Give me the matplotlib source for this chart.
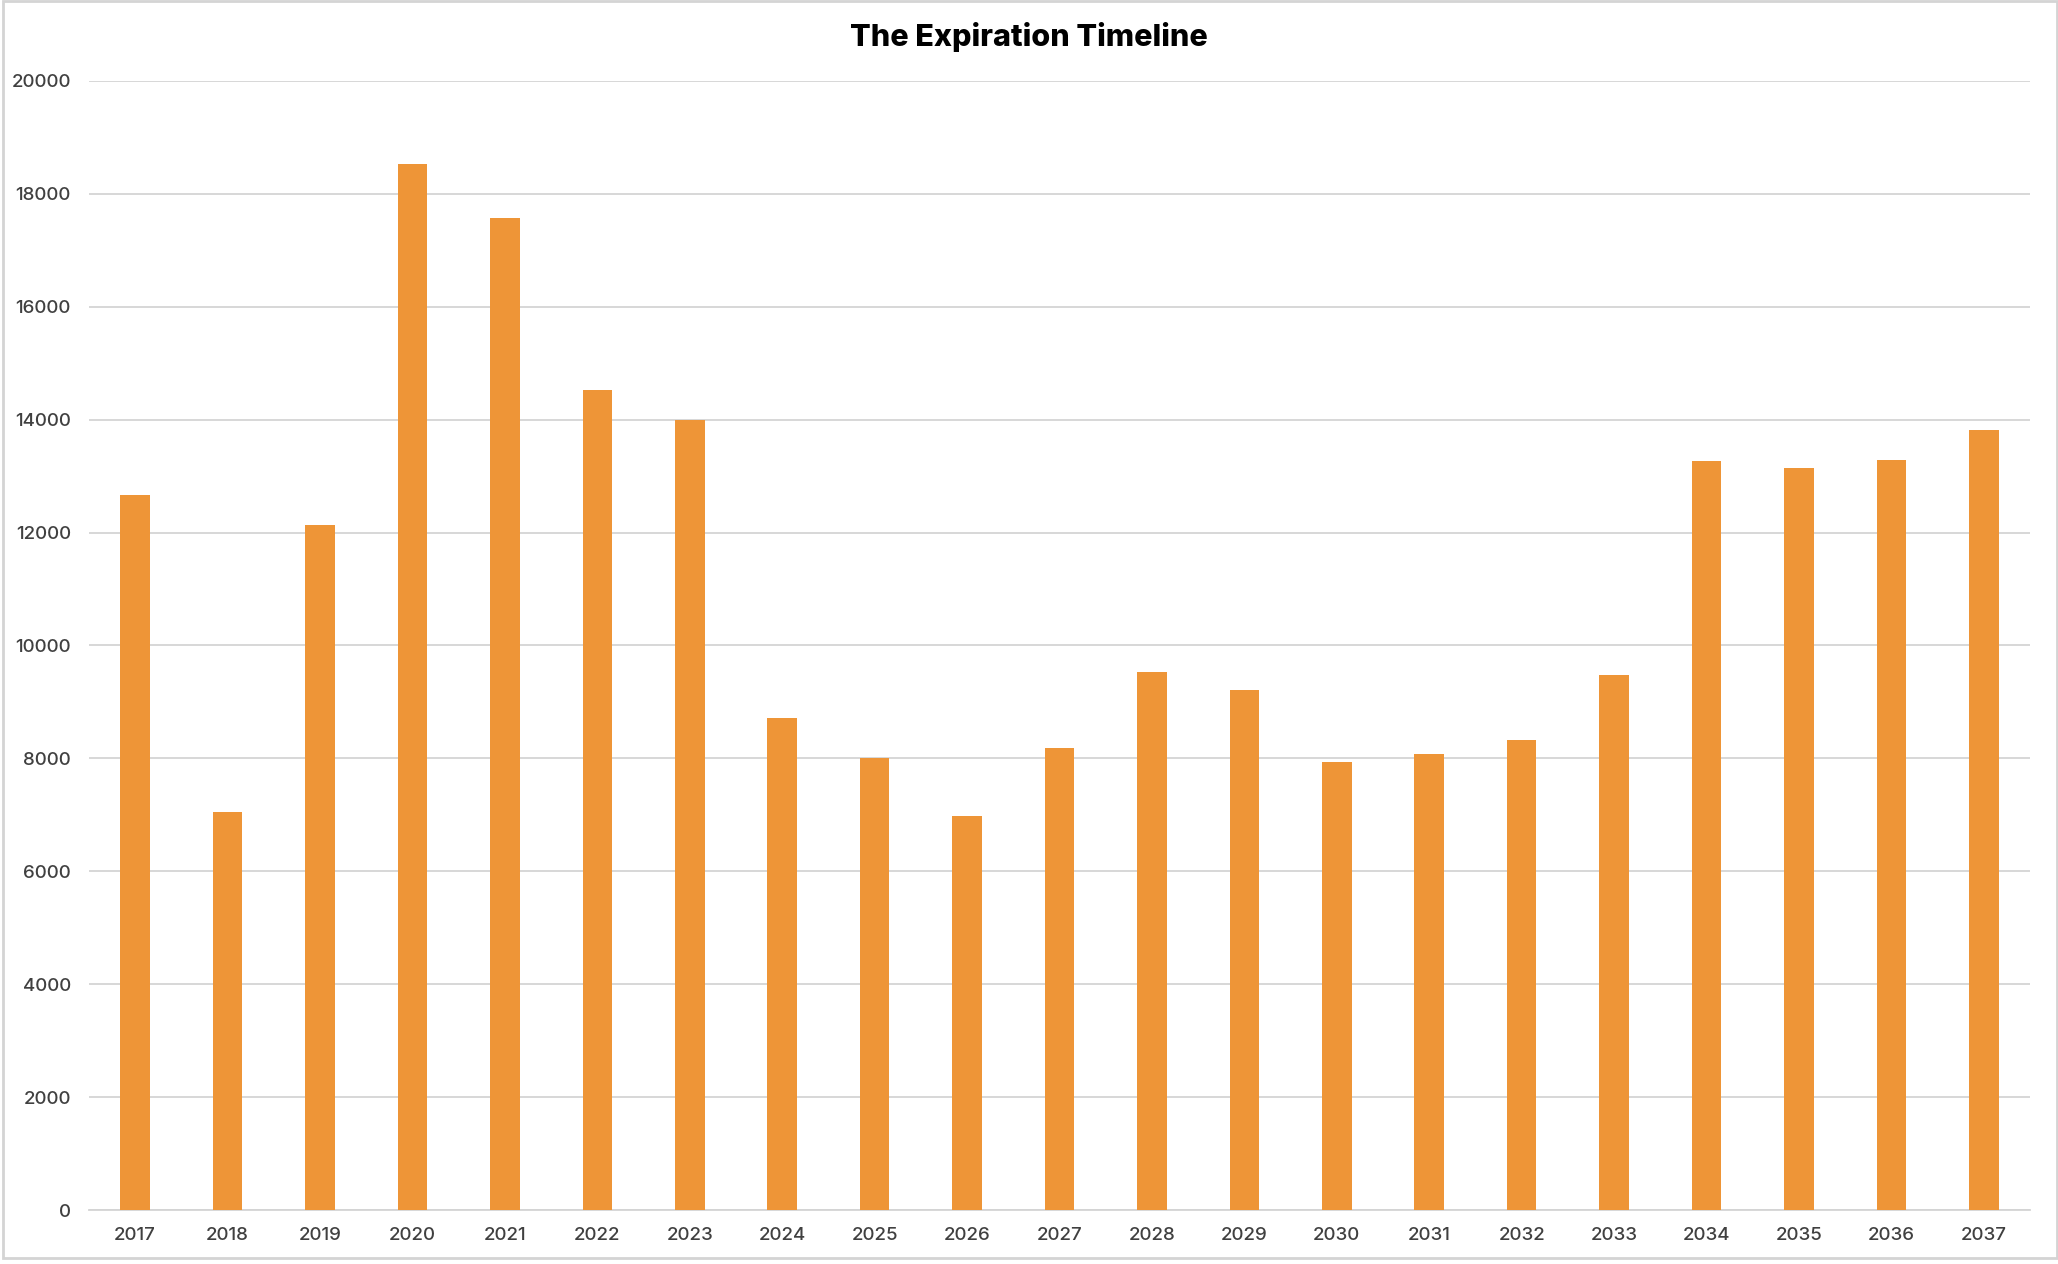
import numpy as np
import matplotlib
matplotlib.use("Agg")
import matplotlib.pyplot as plt
from matplotlib.patches import Rectangle

# valeurs
annees = [str(a) for a in range(2017, 2038)]
valeurs = [12670, 7050, 12140, 18530, 17580, 14530, 14000, 8720, 8000, 6980,
           8190, 9530, 9210, 7930, 8070, 8330, 9470, 13260, 13140, 13280, 13810]
yticks = [0, 2000, 4000, 6000, 8000, 10000, 12000, 14000, 16000, 18000, 20000]

plt.rcParams['font.family'] = ['Inter', 'DejaVu Sans']

fig = plt.figure(figsize=(20.58, 12.64), dpi=100)
ax = fig.add_axes([0.0432, 0.0427, 0.9432, 0.8933])

x = np.arange(len(annees))
ax.bar(x, valeurs, width=0.32, color='#EE9537', zorder=3)

ax.set_xlim(-0.5, len(annees) - 0.5)
ax.set_ylim(0, 20000)
ax.set_yticks(yticks)
ax.set_xticks(x)
ax.set_xticklabels(annees)
ax.yaxis.grid(True, color='#D4D4D4', linewidth=1.3, zorder=0)
for s in ['top', 'right', 'left']:
    ax.spines[s].set_visible(False)
ax.spines['bottom'].set_color('#D4D4D4')
ax.spines['bottom'].set_linewidth(1.3)
ax.tick_params(axis='both', length=0, labelsize=13.5, labelcolor='#404040')
ax.tick_params(axis='y', pad=13)
ax.tick_params(axis='x', pad=12)
for lab in ax.get_xticklabels() + ax.get_yticklabels():
    lab.set_fontweight('medium')

fig.text(0.5, 1 - 37 / 1264, "The Expiration Timeline", ha='center', va='center',
         fontsize=22, fontweight='heavy', color='black')

# cadre gris autour du graphique
fig.patches.append(Rectangle((3 / 2058, 6 / 1264), 1 - 4 / 2058, 1 - 7 / 1264,
                             transform=fig.transFigure, fill=False,
                             edgecolor='#D4D4D4', linewidth=2))

fig.savefig("out.png", dpi=100, facecolor='white')
